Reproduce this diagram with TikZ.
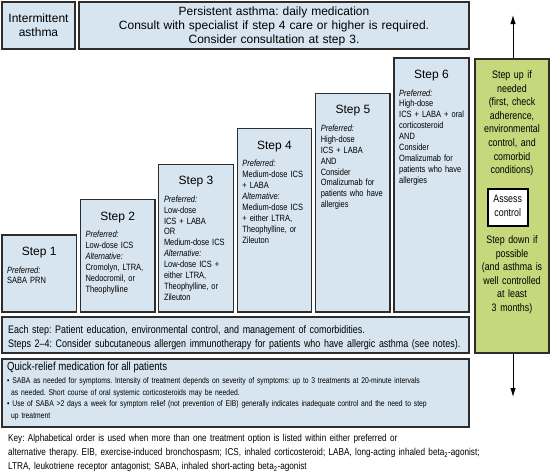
\documentclass[tikz,border=0pt]{standalone}
\usepackage{fontspec}
\setmainfont{Liberation Sans}
\newfontfamily\cond[FakeStretch=0.82]{Liberation Sans}
\usetikzlibrary{arrows.meta,calc}
\definecolor{boxblue}{RGB}{214,229,240}
\definecolor{boxgreen}{RGB}{198,215,124}
\definecolor{edge}{RGB}{45,45,45}
\frenchspacing
\begin{document}
\frenchspacing
\begin{tikzpicture}[x=1pt,y=-1pt,
  panel/.style={draw=edge, line width=1.3pt, fill=boxblue, inner sep=0pt, outer sep=0pt, anchor=north west},
  greenpanel/.style={panel, fill=boxgreen},
  headtext/.style={font=\fontsize{12}{14}\selectfont, align=center, inner sep=0pt, anchor=base},
  steptitle/.style={font=\fontsize{12}{14}\selectfont, inner sep=0pt, anchor=base},
  steptext/.style={font=\cond\fontsize{9.1}{10.9}\selectfont, align=left, text width=70pt, inner sep=0pt, anchor=base west},
  greentext/.style={font=\cond\fontsize{10.8}{13.6}\selectfont, align=center, text width=72pt, inner sep=0pt, anchor=base},
  wide/.style={align=left, inner sep=0pt, anchor=base west}
]
\useasboundingbox (0,0) rectangle (550,474);
\fill[white] (0,0) rectangle (550,474);

% control arrow (behind the green panel)
\coordinate (upTip) at (513,15);
\coordinate (downTip) at (513,397);
\draw[line width=0.9pt, {Latex[length=9pt,width=5.5pt]}-{Latex[length=9pt,width=5.5pt]}] (downTip) -- (upTip);

% header boxes
\node[panel, minimum width=73pt, minimum height=47pt] (inter) at (2,2) {};
\node[headtext, text width=70pt] (intertext) at (38.5,22.5) {Intermittent\\asthma};
\node[panel, minimum width=390pt, minimum height=47pt] (pers) at (79,2) {};
\node[headtext, text width=380pt] (perstext) at (274,15.5) {Persistent asthma: daily medication\\Consult with specialist if step 4 care or higher is required.\\Consider consultation at step 3.};

% steps
\node[panel, minimum width=74.5pt, minimum height=77pt] (s1) at (2,235) {};
\node[steptitle] (t1) at ($(s1.north)+(0,20.5)$) {Step 1};
\node[steptext] (c1) at (7,273) {\textit{Preferred:}\\SABA PRN};

\node[panel, minimum width=74.5pt, minimum height=112.4pt] (s2) at (80.4,199.6) {};
\node[steptitle] (t2) at ($(s2.north)+(0,20.5)$) {Step 2};
\node[steptext] (c2) at (85.4,237.6) {\textit{Preferred:}\\Low-dose ICS\\\textit{Alternative:}\\Cromolyn, LTRA,\\Nedocromil, or\\Theophylline};

\node[panel, minimum width=74.5pt, minimum height=147.8pt] (s3) at (158.8,164.2) {};
\node[steptitle] (t3) at ($(s3.north)+(0,20.5)$) {Step 3};
\node[steptext] (c3) at (163.8,202.2) {\textit{Preferred:}\\Low-dose\\ICS + LABA\\OR\\Medium-dose ICS\\\textit{Alternative:}\\Low-dose ICS +\\either LTRA,\\Theophylline, or\\Zileuton};

\node[panel, minimum width=74.5pt, minimum height=183.2pt] (s4) at (237.2,128.8) {};
\node[steptitle] (t4) at ($(s4.north)+(0,20.5)$) {Step 4};
\node[steptext] (c4) at (242.2,166.8) {\textit{Preferred:}\\Medium-dose ICS\\+ LABA\\\textit{Alternative:}\\Medium-dose ICS\\+ either LTRA,\\Theophylline, or\\Zileuton};

\node[panel, minimum width=74.5pt, minimum height=218.6pt] (s5) at (315.6,93.4) {};
\node[steptitle] (t5) at ($(s5.north)+(0,20.5)$) {Step 5};
\node[steptext] (c5) at (320.6,131.4) {\textit{Preferred:}\\High-dose\\ICS + LABA\\AND\\Consider\\Omalizumab for\\patients who have\\allergies};

\node[panel, minimum width=75pt, minimum height=254pt] (s6) at (394,58) {};
\node[steptitle] (t6) at ($(s6.north)+(0,20.5)$) {Step 6};
\node[steptext] (c6) at (399,96) {\textit{Preferred:}\\High-dose\\ICS + LABA + oral\\corticosteroid\\AND\\Consider\\Omalizumab for\\patients who have\\allergies};

% each step box
\node[panel, minimum width=467pt, minimum height=36pt] (each) at (2,317) {};
\node[wide, text width=530pt, font=\cond\fontsize{10.9}{14}\selectfont] (eachtext) at (8,333.5) {Each step: Patient education, environmental control, and management of comorbidities.\\Steps 2–4: Consider subcutaneous allergen immunotherapy for patients who have allergic asthma (see notes).};

% quick relief box
\node[panel, minimum width=467pt, minimum height=68pt] (quick) at (2,359) {};
\node[wide, font=\cond\fontsize{11.7}{14}\selectfont] (quicktitle) at (7,370) {Quick-relief medication for all patients};
\node[wide, text width=500pt, font=\cond\fontsize{8.3}{11.7}\selectfont] (quicktext) at (7,383.5) {• SABA as needed for symptoms. Intensity of treatment depends on severity of symptoms: up to 3 treatments at 20-minute intervals\\\hspace*{4pt}as needed. Short course of oral systemic corticosteroids may be needed.\\• Use of SABA >2 days a week for symptom relief (not prevention of EIB) generally indicates inadequate control and the need to step\\\hspace*{4pt}up treatment};

% green panel
\node[greenpanel, minimum width=74pt, minimum height=294pt] (green) at (475,59) {};
\node[greentext] (stepup) at (512,78.5) {Step up if\\needed\\(first, check\\adherence,\\environmental\\control, and\\comorbid\\conditions)};
\node[draw=black, line width=1.5pt, fill=white, minimum width=40pt, minimum height=37pt, inner sep=0pt, anchor=north west] (assess) at (487,188) {};
\node[greentext, text width=38pt, font=\cond\fontsize{10.8}{14.5}\selectfont] (assesstext) at (assess.north |- 0,202) {Assess\\control};
\node[greentext] (stepdown) at (512,243.5) {Step down if\\possible\\(and asthma is\\well controlled\\at least\\3 months)};

% key
\node[wide, text width=540pt, font=\cond\fontsize{10}{14}\selectfont] (key) at (8,441.5) {Key: Alphabetical order is used when more than one treatment option is listed within either preferred or\\alternative therapy. EIB, exercise-induced bronchospasm; ICS, inhaled corticosteroid; LABA, long-acting inhaled beta\textsubscript{2}-agonist;\\LTRA, leukotriene receptor antagonist; SABA, inhaled short-acting beta\textsubscript{2}-agonist};
\end{tikzpicture}
\end{document}
